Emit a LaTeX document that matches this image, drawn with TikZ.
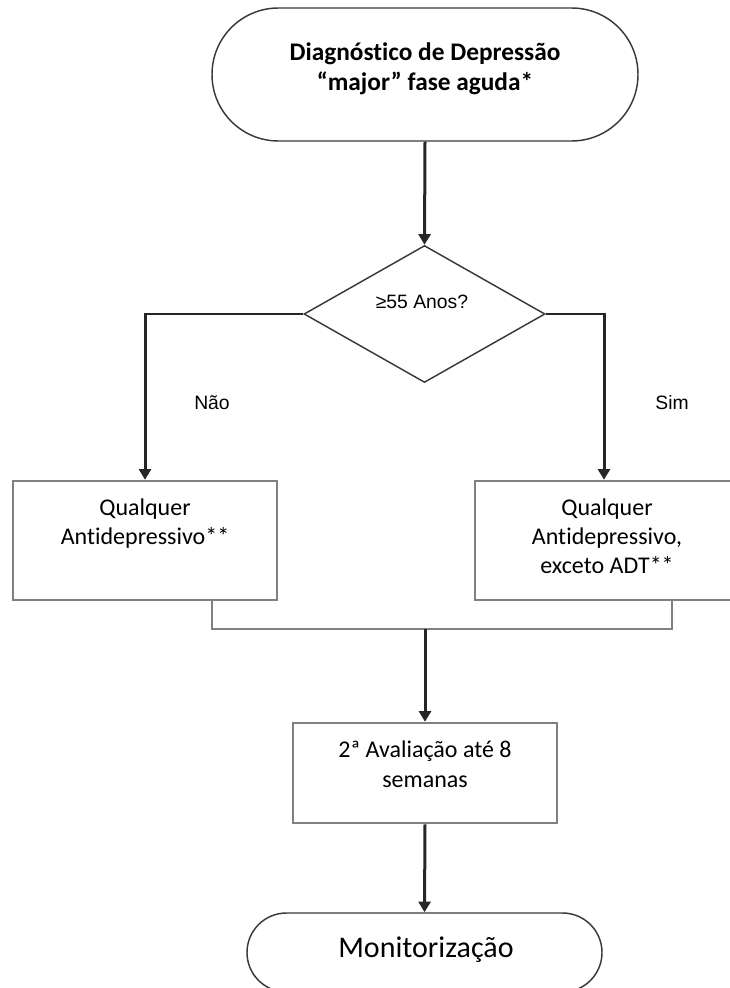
\documentclass[tikz,border=0pt]{standalone}
\usepackage{fontspec}
\setmainfont{Carlito}[Ligatures=NoCommon]
\newfontfamily\labelfont{Liberation Sans}
\usetikzlibrary{arrows.meta,shapes.geometric}

\definecolor{flowline}{HTML}{262626}
\definecolor{boxline}{HTML}{808080}
\definecolor{termline}{HTML}{3A3A3A}

% first-line strut: the node's north edge lies this far above the first baseline
\newcommand{\firstline}[1]{\rule{0pt}{#1}}

\tikzset{
  terminal/.style={draw=termline, line width=1.1pt, fill=white, inner sep=0pt},
  procbox/.style={draw=boxline, line width=1.9pt, fill=white, inner sep=0pt,
    minimum width=198pt},
  decision/.style={diamond, draw=termline, line width=1.1pt, fill=white, inner sep=0pt,
    minimum width=180.75pt, minimum height=102.75pt},
  flow/.style={draw=flowline, line width=2.25pt,
    -{Triangle[width=9pt,length=8pt]}},
  branch/.style={draw=flowline, line width=2pt},
  merge/.style={draw=boxline, line width=1.9pt},
  boxtext/.style={inner sep=0pt, anchor=north, align=center,
    font=\fontsize{18}{21.75}\selectfont},
  branchlabel/.style={inner sep=0pt, font=\labelfont\fontsize{14.5}{17}\selectfont}
}

\begin{document}
\begin{tikzpicture}[x=0.75pt, y=-0.75pt]
  \useasboundingbox (0,0) rectangle (729,988);

  % start terminal
  \node[terminal, minimum width=319.5pt, minimum height=99.75pt,
        rounded corners=49.8pt] (start) at (425,74.5) {};
  \node[inner sep=0pt, anchor=north, align=center,
        font=\bfseries\fontsize{19}{22.5}\selectfont] (starttext) at (425,38.67)
        {\firstline{16pt}Diagnóstico de Depressão\\“major” fase aguda*};

  % age decision
  \node[decision] (age) at (424.5,314) {};
  \node[inner sep=0pt, anchor=base, font=\labelfont\fontsize{14.5}{17}\selectfont]
        (agetext) at (422,308) {≥55 Anos?};

  % treatment boxes
  \node[procbox, minimum height=89.25pt] (anyad) at (145,540.5) {};
  \node[boxtext] (anyadtext) at (145,495)
        {\firstline{15pt}Qualquer\\Antidepressivo**};

  \node[procbox, minimum height=89.25pt] (anyadx) at (607,540.5) {};
  \node[boxtext] (anyadxtext) at (607,495)
        {\firstline{15pt}Qualquer\\Antidepressivo,\\exceto ADT**};

  % reassessment box
  \node[procbox, minimum height=75pt] (eval) at (425,773) {};
  \node[boxtext, font=\fontsize{18}{22.5}\selectfont] (evaltext) at (425,737)
        {\firstline{15pt}2ª Avaliação até 8\\semanas};

  % end terminal
  \node[terminal, minimum width=266.25pt, minimum height=59.25pt,
        rounded corners=29.6pt] (stop) at (424.5,952.5) {};
  \node[inner sep=0pt, font=\fontsize{22.5}{26}\selectfont] (stoptext) at (426,950)
        {Monitorização};

  % branch labels
  \node[branchlabel] (no) at (212,403) {Não};
  \node[branchlabel] (yes) at (672,403) {Sim};

  % junction points
  \coordinate (mergeL) at (212,629);
  \coordinate (mergeR) at (672,629);
  \coordinate (mergeC) at (425,629);

  % connectors
  \draw[flow] (start.south) -- (age.north);
  \draw[branch] (age.west) -- (145,314);
  \draw[flow] (145,313) -- (anyad.north);
  \draw[branch] (age.east) -- (604,314);
  \draw[flow] (604,313) -- (anyadx.north west -| 604,0);
  \draw[merge] (anyad.south -| mergeL) -- (mergeL) -- (mergeR) -- (anyadx.south -| mergeR);
  \draw[flow] (mergeC) -- (eval.north);
  \draw[flow] (eval.south) -- (stop.north);
\end{tikzpicture}
\end{document}
